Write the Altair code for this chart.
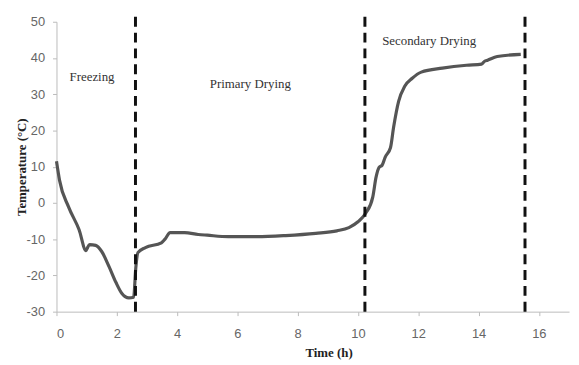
import altair as alt
import pandas as pd

time_h = [0.0, 0.1, 0.4, 0.75, 0.98, 1.02, 1.1, 1.3, 1.5, 1.74, 1.97, 2.17, 2.4, 2.56, 2.63, 2.7, 2.95, 3.48, 3.6, 3.77,
          4.25, 4.7, 5.0, 5.7, 6.65, 7.6, 8.6, 9.3, 9.7, 10.0, 10.26, 10.49, 10.6, 10.7, 10.8, 10.9, 11.08, 11.18,
          11.35, 11.55, 11.8, 12.1, 12.8, 13.6, 14.1, 14.2, 14.3, 14.62, 15.4]
temp_c = [11.5, 6.3, -1.1, -7.4, -13.2, -12.5, -11.5, -11.7, -13.4, -17.5, -21.9, -25.0, -26.2, -26.0, -18.0, -13.7,
          -12.3, -11.0, -10.0, -8.2, -8.2, -8.7, -8.9, -9.3, -9.3, -9.0, -8.4, -7.7, -6.8, -5.2, -2.8, 1.6, 7.1,
          9.8, 10.4, 12.6, 15.3, 20.8, 28.1, 32.2, 34.4, 36.1, 37.2, 38.0, 38.3, 39.1, 39.4, 40.4, 41.0]

phase_bounds = [2.62, 10.23, 15.54]
phase_labels = ["Freezing", "Primary Drying", "Secondary Drying"]
label_x = [1.18, 6.43, 12.36]
label_y = [34.7, 32.8, 44.8]

x_ticks = [0, 2, 4, 6, 8, 10, 12, 14, 16]
y_ticks = [-30, -20, -10, 0, 10, 20, 30, 40, 50]

df = pd.DataFrame({"t": time_h, "T": temp_c})
rules = pd.DataFrame({"t": phase_bounds, "y1": [-30] * 3, "y2": [52] * 3})
labels = pd.DataFrame({"t": label_x, "y": label_y, "text": phase_labels})

xs = alt.Scale(domain=[0, 17], nice=False)
ys = alt.Scale(domain=[-30, 50], nice=False)

axis_common = dict(grid=False, domainColor="#bbbbbb", tickColor="#bbbbbb", tickSize=4,
                   labelColor="#666666", labelFont="Liberation Sans", labelFontSize=13,
                   labelOverlap=False, labelExpr="toString(datum.value)",
                   titleFont="Liberation Serif", titleFontWeight="bold", titleFontSize=13,
                   titleColor="#222222")

axis_x = alt.Axis(title="Time (h)", values=x_ticks, labelPadding=12,
                  titleX=275, titleY=41, titleBaseline="middle", **axis_common)
axis_y = alt.Axis(title="Temperature (°C)", values=y_ticks, labelPadding=8,
                  titleX=-35, titleBaseline="middle", **axis_common)

line = alt.Chart(df).mark_line(color="#555555", strokeWidth=3.2, interpolate="monotone").encode(
    x=alt.X("t:Q", scale=xs, axis=axis_x),
    y=alt.Y("T:Q", scale=ys, axis=axis_y),
)

rule = alt.Chart(rules).mark_rule(color="#111111", strokeWidth=3, strokeDash=[10, 6], clip=False).encode(
    x=alt.X("t:Q", scale=xs, axis=axis_x),
    y=alt.Y("y1:Q", scale=ys, axis=axis_y),
    y2="y2:Q",
)

text = alt.Chart(labels).mark_text(font="Liberation Serif", fontSize=13, color="#333333").encode(
    x=alt.X("t:Q", scale=xs, axis=axis_x),
    y=alt.Y("y:Q", scale=ys, axis=axis_y),
    text="text:N",
)

chart = (line + rule + text).properties(
    width=518, height=293,
    autosize=alt.AutoSizeParams(type="none"),
    padding={"left": 49, "top": 12, "right": 2, "bottom": 50},
).configure_view(stroke=None)

chart.save("out.html", embed_options={"renderer": "svg", "actions": False})
